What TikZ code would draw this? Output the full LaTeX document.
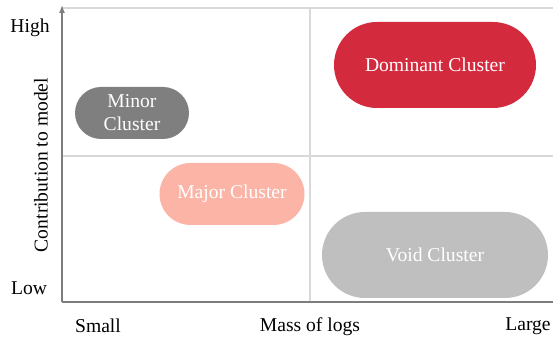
\documentclass[tikz,border=0pt]{standalone}
\usepackage{fontspec}
\setmainfont{Liberation Serif}
\usetikzlibrary{arrows.meta,shapes.misc}
\definecolor{gridgray}{RGB}{217,217,217}
\definecolor{axisgray}{RGB}{125,125,125}
\definecolor{minorgray}{RGB}{127,127,127}
\definecolor{voidgray}{RGB}{191,191,191}
\definecolor{majorpink}{RGB}{251,180,166}
\definecolor{domred}{RGB}{212,42,62}
\tikzset{
 cluster/.style={rounded rectangle,text=white,align=center,inner sep=0pt},
 gridline/.style={gridgray,line width=0.6pt},
 axisline/.style={axisgray,line width=0.7pt}
}

\begin{document}
\begin{tikzpicture}[x=0.5pt,y=-0.5pt,>=Latex,font=\fontsize{9.8}{11.5}\selectfont]
\useasboundingbox (0,0) rectangle (553,340);
% grid of the four quadrants
\coordinate (tl) at (62,8);
\coordinate (tr) at (553,8);
\coordinate (ml) at (62,156);
\coordinate (mr) at (553,156);
\coordinate (mt) at (310,8);
\coordinate (mb) at (310,302);
\coordinate (o) at (62,302);
\coordinate (xe) at (553,302);
\draw[gridline] (tl) -- (tr);
\draw[gridline] (ml) -- (mr);
\draw[gridline] (mt) -- (mb);
% axes
\draw[axisline] (o) -- (xe);
\draw[axisline,-{Latex[length=4pt,width=3pt]}] (o) -- (62,5);
% axis labels
\node (high) at (30,28) {High};
\node (low) at (29,288) {Low};
\node[rotate=90] (ylab) at (41,165) {Contribution to model};
\node (small) at (98,326) {Small};
\node (xlab) at (310,327) {Mass of logs};
\node (large) at (528,326) {Large};
% clusters
\node[cluster,fill=minorgray,minimum width=114pt*0.5,minimum height=52pt*0.5] (minor) at (132,113) {Minor\\Cluster};
\node[cluster,fill=majorpink,minimum width=145pt*0.5,minimum height=62pt*0.5] (major) at (232,194) {Major Cluster};
\node[cluster,fill=domred,minimum width=202pt*0.5,minimum height=86pt*0.5] (dominant) at (435,65) {Dominant Cluster};
\node[cluster,fill=voidgray,minimum width=226pt*0.5,minimum height=86pt*0.5] (void) at (435,255) {Void Cluster};
\end{tikzpicture}
\end{document}
